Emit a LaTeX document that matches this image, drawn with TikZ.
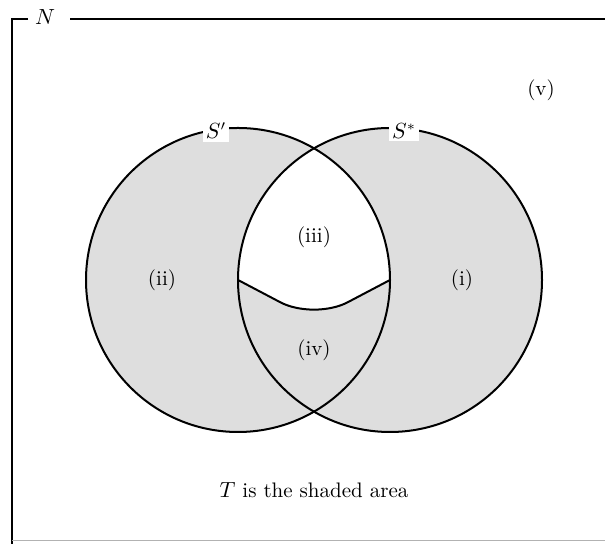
\documentclass[tikz,border=0pt]{standalone}
\usepackage{tikz}
\definecolor{setgray}{RGB}{222,222,222}

\begin{document}
\begin{tikzpicture}[x=0.5pt, y=0.5pt, line width=1pt,
    region/.style={font=\fontsize{10.5}{12}\selectfont},
    setname/.style={fill=white, inner sep=1.5pt, font=\fontsize{10.5}{12}\selectfont}]
    \useasboundingbox (0,0) rectangle (605,544);
    \coordinate (cA) at (238,264);
    \coordinate (cB) at (390,264);
    \coordinate (dip) at (314,224);

    % shaded sets
    \fill[setgray] (cA) circle[radius=76pt];
    \fill[setgray] (cB) circle[radius=76pt];
    \begin{scope}
        \clip (cA) circle[radius=76pt];
        \clip (cB) circle[radius=76pt];
        \fill[white, rounded corners=19pt] (150,310.3) -- (dip) -- (478,310.3) -- (478,480) -- (150,480) -- cycle;
    \end{scope}
    \draw (cA) circle[radius=76pt];
    \draw (cB) circle[radius=76pt];
    \draw[rounded corners=19pt] (cA) -- (dip) -- (cB);

    % frame
    \node[region] (nlbl) at (45,527) {$N$};
    \coordinate (tl) at (12,525);
    \draw (28,525) -- (tl) -- (12,0);
    \draw (70,525) -- (605,525);
    \draw[black!30, line width=0.5pt] (12,3) -- (605,3);

    \node[setname] (sA) at (216,413) {$S'$};
    \node[setname] (sB) at (404,413) {$S^*$};
    \node[region] (r1) at (462,264) {(i)};
    \node[region] (r2) at (162,264) {(ii)};
    \node[region] (r3) at (314,307) {(iii)};
    \node[region] (r4) at (314,194) {(iv)};
    \node[region] (r5) at (541,454) {(v)};
    \node[region] (cap) at (314,54) {$T$ is the shaded area};
\end{tikzpicture}
\end{document}
